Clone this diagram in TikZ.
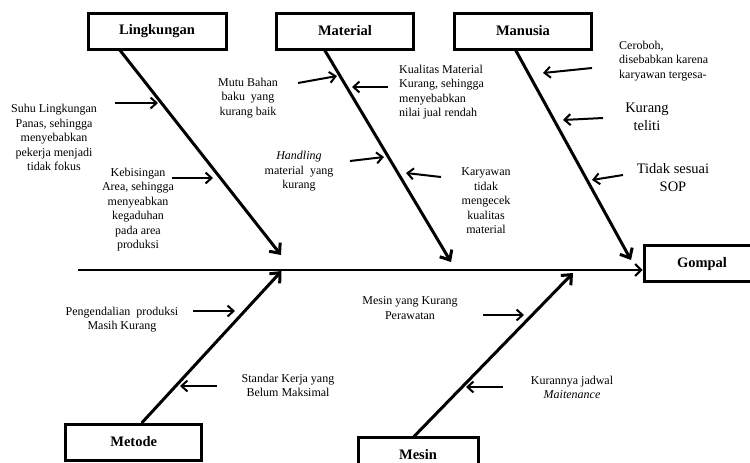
\documentclass[tikz,border=0pt]{standalone}
\usepackage{fontspec}
\setmainfont{Liberation Serif}
\usetikzlibrary{arrows.meta}
\begin{document}
\begin{tikzpicture}[x=1pt,y=-1pt,
  box/.style={draw, line width=3pt, inner sep=0pt, font=\fontsize{14.5}{17}\selectfont\bfseries},
  spine/.style={line width=3pt, -{Straight Barb[length=8pt,width=14pt]}},
  mainline/.style={line width=2pt, -{Straight Barb[length=6pt,width=12pt]}},
  cause/.style={line width=2pt, -{Straight Barb[length=6pt,width=11pt]}},
  txt/.style={align=center, inner sep=0pt, font=\fontsize{12}{14.5}\selectfont},
  txtl/.style={align=left, anchor=west, inner sep=0pt, font=\fontsize{12}{14.5}\selectfont},
  bigtxt/.style={align=center, inner sep=0pt, font=\fontsize{14.5}{18.5}\selectfont}
]
\useasboundingbox (0,0) rectangle (750,463);
\clip (0,0) rectangle (750,463);

% category boxes
\node[box, minimum width=138pt, minimum height=36pt] (ling) at (157,31) {Lingkungan};
\node[box, minimum width=137pt, minimum height=36pt] (mat) at (345,31) {Material};
\node[box, minimum width=137pt, minimum height=36pt] (man) at (523,31) {Manusia};
\node[box, minimum width=116pt, minimum height=36pt] (gom) at (702,263.7) {Gompal};
\node[box, minimum width=136pt, minimum height=36pt] (met) at (133.7,442) {Metode};
\node[box, minimum width=120pt, minimum height=36pt] (mes) at (418,455) {Mesin};

% spine coordinates
\coordinate (lingS) at (119,49);
\coordinate (lingT) at (281,255);
\coordinate (matS) at (324,49);
\coordinate (matT) at (451,262);
\coordinate (manS) at (515,49);
\coordinate (manT) at (631,260);
\coordinate (metS) at (141.7,423);
\coordinate (metT) at (281.5,271);
\coordinate (mesS) at (414,436.5);
\coordinate (mesT) at (573,273);
\coordinate (headS) at (78,270);
\coordinate (headT) at (642.5,270);

\draw[mainline] (headS) -- (headT);
\draw[spine] (lingS) -- (lingT);
\draw[spine] (matS) -- (matT);
\draw[spine] (manS) -- (manT);
\draw[spine] (metS) -- (metT);
\draw[spine] (mesS) -- (mesT);

% cause texts
\node[txt] (suhu) at (54,137.5) {Suhu Lingkungan\\Panas, sehingga\\menyebabkan\\pekerja menjadi\\tidak fokus};
\node[txt] (bising) at (138,209.5) {Kebisingan\\Area, sehingga\\menyeabkan\\kegaduhan\\pada area\\produksi};
\node[txt] (mutu) at (248,98) {Mutu Bahan\\baku~~yang\\kurang baik};
\node[txtl] (kual) at (399,92) {Kualitas Material\\Kurang, sehingga\\menyebabkan\\nilai jual rendah};
\node[txt] (hand) at (299,171.5) {\textit{Handling}\\material~~yang\\kurang};
\node[txt] (kary) at (486,201) {Karyawan\\tidak\\mengecek\\kualitas\\material};
\node[txtl] (cero) at (619,61) {Ceroboh,\\disebabkan karena\\karyawan tergesa-};
\node[bigtxt] (teliti) at (647,117) {Kurang\\teliti};
\node[bigtxt] (sop) at (673,177.5) {Tidak sesuai\\SOP};
\node[txt] (peng) at (122,319.5) {Pengendalian~~produksi\\Masih Kurang};
\node[txt] (stan) at (288,385.5) {Standar Kerja yang\\Belum Maksimal};
\node[txt] (rawat) at (410,308) {Mesin yang Kurang\\Perawatan};
\node[txt] (jadwal) at (572,387.5) {Kurannya jadwal\\\textit{Maitenance}};

% cause arrows
\coordinate (a1s) at (115,103);  \coordinate (a1t) at (158,103);
\coordinate (a2s) at (172,178);  \coordinate (a2t) at (213,178);
\coordinate (a3s) at (298,83);   \coordinate (a3t) at (337,76);
\coordinate (a4s) at (388,87);   \coordinate (a4t) at (352,87);
\coordinate (a5s) at (350,161);  \coordinate (a5t) at (384,157);
\coordinate (a6s) at (441,177);  \coordinate (a6t) at (406,173);
\coordinate (a7s) at (592,68);   \coordinate (a7t) at (543,73);
\coordinate (a8s) at (603,118);  \coordinate (a8t) at (563,120);
\coordinate (a9s) at (623,175);  \coordinate (a9t) at (592,180);
\coordinate (a10s) at (193,311); \coordinate (a10t) at (235,311);
\coordinate (a11s) at (217,386); \coordinate (a11t) at (180,386);
\coordinate (a12s) at (483,315); \coordinate (a12t) at (524,315);
\coordinate (a13s) at (503,387); \coordinate (a13t) at (466,387);

\foreach \i in {1,...,13} {\draw[cause] (a\i s) -- (a\i t);}
\end{tikzpicture}
\end{document}
